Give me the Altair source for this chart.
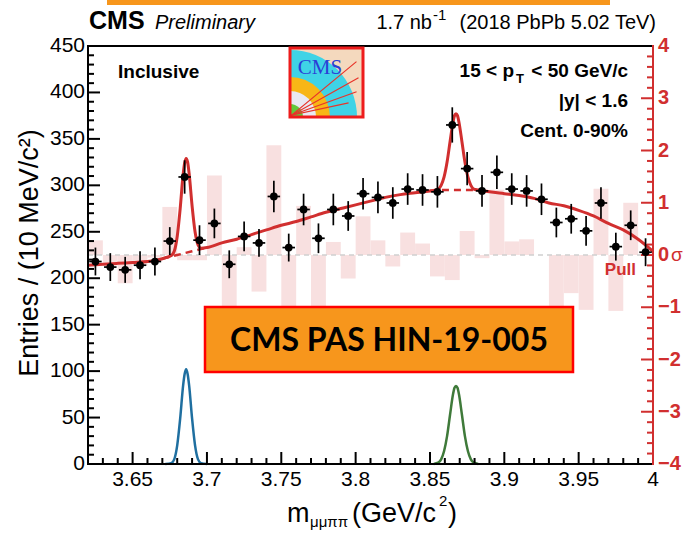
import math
import altair as alt
import pandas as pd

# ---------------- data ----------------
# bin centres of the m(mu mu pi pi) histogram, GeV/c^2 (10 MeV bins)
BIN_CENTRE = [3.625, 3.635, 3.645, 3.655, 3.665, 3.675, 3.685, 3.695, 3.705, 3.715,
              3.725, 3.735, 3.745, 3.755, 3.765, 3.775, 3.785, 3.795, 3.805, 3.815,
              3.825, 3.835, 3.845, 3.855, 3.865, 3.875, 3.885, 3.895, 3.905, 3.915,
              3.925, 3.935, 3.945, 3.955, 3.965, 3.975, 3.985, 3.995]
ENTRIES = [218, 212, 209, 214, 218, 240, 309, 241, 259, 215,
           245, 238, 288, 233, 274, 243, 274, 267, 291, 287,
           281, 296, 295, 293, 365, 318, 294, 314, 296, 294,
           285, 260, 264, 251, 281, 234, 257, 228]
STAT_ERR = [15, 15, 14, 15, 15, 15, 18, 16, 16, 15,
            16, 15, 17, 15, 17, 16, 17, 16, 17, 17,
            17, 17, 17, 17, 19, 18, 17, 18, 17, 17,
            17, 16, 16, 16, 17, 15, 16, 15]
PULL = [0.28, -0.20, -0.54, -0.20, -0.05, 0.92, -0.10, -0.10, 1.52, -1.70,
        0.15, -0.70, 2.10, -1.45, 0.94, -1.35, 0.25, -0.45, 0.74, 0.28,
        -0.22, 0.43, 0.22, -0.41, -0.48, 0.46, -0.06, 1.25, 0.26, 0.30,
        0.00, -1.05, -0.73, -1.05, 1.27, -1.07, 1.00, 0.00]

# fitted background
BKG_MASS = [3.62, 3.63, 3.64, 3.65, 3.66, 3.67, 3.68, 3.69, 3.70, 3.71,
            3.72, 3.73, 3.74, 3.75, 3.76, 3.77, 3.78, 3.79, 3.80, 3.81,
            3.82, 3.83, 3.84, 3.85, 3.86, 3.87, 3.88, 3.89, 3.90, 3.91,
            3.92, 3.93, 3.94, 3.95, 3.96, 3.97, 3.98, 3.99, 4.00]
BKG_VAL = [214, 215, 216, 217, 218, 221, 225, 229, 233, 238,
           242, 247, 252, 257, 261, 266, 271, 275, 279, 283,
           287, 290, 292, 294, 295, 295, 295, 293, 291, 289,
           286, 281, 278, 273, 267, 259, 252, 242, 229]

# total fit (signal + background) around the psi(2S) peak
PEAK1_MASS = [3.672, 3.676, 3.678, 3.680, 3.682, 3.684, 3.685, 3.686, 3.687, 3.688,
              3.690, 3.692, 3.694, 3.696, 3.700]
PEAK1_TOTAL = [222, 224.4, 229, 245, 275, 312, 324, 329, 325, 313,
               278, 250, 236, 232.4, 233]
# total fit around the X(3872) peak
PEAK2_MASS = [3.8525, 3.8555, 3.8575, 3.8595, 3.8615, 3.8635, 3.8655, 3.8665, 3.8675,
              3.8685, 3.8695, 3.8715, 3.8735, 3.8755, 3.8775, 3.8795, 3.8825]
PEAK2_TOTAL = [294.6, 296, 300, 309, 325, 347, 368, 375, 377,
               375, 368, 347, 325, 309, 300, 296, 295]

# signal-only shapes drawn at the bottom
PSI2S_MASS = PEAK1_MASS
PSI2S_VAL = [0, 1, 5, 20, 49, 85, 97, 102, 97, 85, 49, 20, 5, 1, 0]
X3872_MASS = PEAK2_MASS
X3872_VAL = [0.1, 1.4, 5, 14, 30, 53, 75, 82, 84, 82, 75, 53, 30, 14, 5, 1.4, 0.1]

# axis tick values and their labels
Y_TICKS = [0, 50, 100, 150, 200, 250, 300, 350, 400, 450]
Y_TICK_LABELS = ["0", "50", "100", "150", "200", "250", "300", "350", "400", "450"]
X_TICKS = [3.65, 3.7, 3.75, 3.8, 3.85, 3.9, 3.95, 4.0]
X_TICK_LABELS = ["3.65", "3.7", "3.75", "3.8", "3.85", "3.9", "3.95", "4"]
P_TICKS = [-4, -3, -2, -1, 0, 1, 2, 3, 4]
P_TICK_LABELS = ["\u22124", "\u22123", "\u22122", "\u22121", "0", "1", "2", "3", "4"]

# ---------------- tables ----------------
points = pd.DataFrame({"m": BIN_CENTRE, "n": ENTRIES, "e": STAT_ERR})
pulls = pd.DataFrame({"m": BIN_CENTRE, "pull": PULL})
bkg = pd.DataFrame({"m": BKG_MASS, "v": BKG_VAL})

fit_rows = [(m, v) for m, v in zip(BKG_MASS, BKG_VAL)
            if not (PEAK1_MASS[0] <= m <= PEAK1_MASS[-1])
            and not (PEAK2_MASS[0] <= m <= PEAK2_MASS[-1])]
fit_rows += list(zip(PEAK1_MASS, PEAK1_TOTAL)) + list(zip(PEAK2_MASS, PEAK2_TOTAL))
fit = pd.DataFrame(sorted(fit_rows), columns=["m", "v"])

under1 = bkg[(bkg.m >= 3.67) & (bkg.m <= 3.70)].assign(seg="a")
under2 = bkg[(bkg.m >= 3.85) & (bkg.m <= 3.89)].assign(seg="b")
bkg_under = pd.concat([under1, under2])

psi = pd.DataFrame({"m": PSI2S_MASS, "v": PSI2S_VAL})
x38 = pd.DataFrame({"m": X3872_MASS, "v": X3872_VAL})
ONE = pd.DataFrame({"k": [0]})

y_lab = pd.DataFrame({"v": Y_TICKS, "t": Y_TICK_LABELS})
x_lab = pd.DataFrame({"v": X_TICKS, "t": X_TICK_LABELS})
p_lab = pd.DataFrame({"v": P_TICKS, "t": P_TICK_LABELS})

# ---------------- styling ----------------
W, H = 565, 418
FONT = "Liberation Sans"
RED = "#d12f2f"
PINK = "#f8e0e0"
ORANGE = "#f7961c"

XS = alt.Scale(domain=[3.62, 4.0], nice=False, zero=False)
YS = alt.Scale(domain=[0, 450], nice=False, zero=False)
PS = alt.Scale(domain=[-4, 4], nice=False, zero=False)


def xq(field):
    return alt.X(field, type="quantitative", scale=XS, axis=None)


def yq(field):
    return alt.Y(field, type="quantitative", scale=YS, axis=None)


def yp(field):
    return alt.Y(field, type="quantitative", scale=PS, axis=None)


def txt(s, x, y, size, weight="normal", style="normal", color="black",
        align="left", baseline="alphabetic", font=FONT, angle=0):
    return alt.Chart(ONE).mark_text(
        text=s, fontSize=size, fontWeight=weight, fontStyle=style, color=color,
        align=align, baseline=baseline, font=font, angle=angle
    ).encode(x=alt.value(x), y=alt.value(y))


def seg(x, y, x2, y2, color="black", width=2.0):
    return alt.Chart(ONE).mark_rule(color=color, strokeWidth=width, strokeCap="square").encode(
        x=alt.value(x), y=alt.value(y), x2=alt.value(x2), y2=alt.value(y2))


# ---------------- pull panel (right axis) ----------------
pull_bars = alt.Chart(pulls).transform_calculate(
    lo="datum.m - 0.005", hi="datum.m + 0.005"
).mark_rect(color=PINK).encode(
    x=xq("lo:Q"), x2="hi:Q", y=yp("pull:Q"), y2=alt.Y2Datum(0))

zero_line = alt.Chart(ONE).mark_rule(color="#cfcfcf", strokeWidth=1.5, strokeDash=[5, 4]).encode(
    y=alt.YDatum(0, scale=PS, axis=None), x=alt.value(0), x2=alt.value(W))

p_major = pd.DataFrame({"v": P_TICKS})
p_minor = pd.DataFrame({"v": [i / 5 for i in range(-20, 21) if i % 5 != 0]})
p_ticks_major = alt.Chart(p_major).mark_rule(color=RED, strokeWidth=2).encode(
    y=yp("v:Q"), x=alt.value(W), x2=alt.value(W - 12))
p_ticks_minor = alt.Chart(p_minor).mark_rule(color=RED, strokeWidth=2).encode(
    y=yp("v:Q"), x=alt.value(W), x2=alt.value(W - 6))
p_labels = alt.Chart(p_lab).mark_text(
    align="left", baseline="middle", fontSize=20, fontWeight="bold", font=FONT, color=RED
).encode(y=yp("v:Q"), x=alt.value(W + 5), text="t:N")

sigma = alt.Chart(ONE).mark_text(text="\u03c3", fontSize=19, color=RED, font=FONT,
                                 align="left", baseline="middle").encode(
    y=alt.YDatum(0, scale=PS, axis=None), x=alt.value(W + 18))
pull_word = txt("Pull", 548, 224, 17, weight="bold", color=RED, align="right", baseline="middle")

pull_group = alt.layer(pull_bars, zero_line, p_ticks_major, p_ticks_minor, p_labels,
                       sigma, pull_word)

# ---------------- main panel (left axis) ----------------
bkg_dashed = alt.Chart(bkg_under).mark_line(
    color=RED, strokeWidth=2.5, strokeDash=[7, 5], interpolate="monotone").encode(
    x=xq("m:Q"), y=yq("v:Q"), detail="seg:N")
fit_line = alt.Chart(fit).mark_line(color=RED, strokeWidth=3, interpolate="monotone").encode(
    x=xq("m:Q"), y=yq("v:Q"))
psi_line = alt.Chart(psi).mark_line(color="#1f6fa0", strokeWidth=2.5, interpolate="monotone").encode(
    x=xq("m:Q"), y=yq("v:Q"))
x38_line = alt.Chart(x38).mark_line(color="#3f7a3a", strokeWidth=2.5, interpolate="monotone").encode(
    x=xq("m:Q"), y=yq("v:Q"))

err_base = alt.Chart(points).transform_calculate(
    lo="datum.n - datum.e", hi="datum.n + datum.e",
    ml="datum.m - 0.0042", mh="datum.m + 0.0042")
err_v = err_base.mark_rule(color="black", strokeWidth=1.7).encode(
    x=xq("m:Q"), y=yq("lo:Q"), y2="hi:Q")
err_h = err_base.mark_rule(color="black", strokeWidth=1.7).encode(
    x=xq("ml:Q"), x2="mh:Q", y=yq("n:Q"))
dots = alt.Chart(points).mark_circle(color="black", size=60, opacity=1).encode(
    x=xq("m:Q"), y=yq("n:Q"))

# axis ticks drawn inside the frame, labels outside
y_minor = pd.DataFrame({"v": [v for v in range(0, 451, 10) if v % 50]})
x_minor = pd.DataFrame({"v": [round(3.62 + i / 100, 2) for i in range(1, 38) if (i + 2) % 5]})
ty_major = alt.Chart(y_lab).mark_rule(color="black", strokeWidth=2).encode(
    y=yq("v:Q"), x=alt.value(0), x2=alt.value(12))
ty_minor = alt.Chart(y_minor).mark_rule(color="black", strokeWidth=2).encode(
    y=yq("v:Q"), x=alt.value(0), x2=alt.value(6))
tx_major = alt.Chart(x_lab[x_lab.v < 4.0]).mark_rule(color="black", strokeWidth=2).encode(
    x=xq("v:Q"), y=alt.value(H), y2=alt.value(H - 12))
tx_minor = alt.Chart(x_minor).mark_rule(color="black", strokeWidth=2).encode(
    x=xq("v:Q"), y=alt.value(H), y2=alt.value(H - 6))
ly_labels = alt.Chart(y_lab).mark_text(
    align="right", baseline="middle", fontSize=21, font=FONT, color="black"
).encode(y=yq("v:Q"), x=alt.value(-3), text="t:N")
lx_labels = alt.Chart(x_lab).mark_text(
    align="center", baseline="alphabetic", fontSize=21, font=FONT, color="black"
).encode(x=xq("v:Q"), y=alt.value(H + 22), text="t:N")

frame = [
    seg(0, 0, W, 0),               # top
    seg(0, 0, 0, H),               # left
    seg(0, H, W, H),               # bottom
    seg(W, 0, W, H, color=RED),    # right (pull axis)
]

# CMS logo
LX, LY, LW, LH = 202, 2, 73, 69
logo = [
    alt.Chart(ONE).mark_rect(color="#f4d9be").encode(
        x=alt.value(LX), x2=alt.value(LX + LW), y=alt.value(LY), y2=alt.value(LY + LH)),
    alt.Chart(ONE).mark_arc(theta=0, theta2=math.pi / 2, outerRadius=67, color="#3fd3e6").encode(
        x=alt.value(LX), y=alt.value(LY + LH)),
    alt.Chart(ONE).mark_arc(theta=0, theta2=math.pi / 2, outerRadius=40, color="#f8b616").encode(
        x=alt.value(LX), y=alt.value(LY + LH)),
    alt.Chart(ONE).mark_arc(theta=0, theta2=math.pi / 2, outerRadius=26, color="#e9e9f2").encode(
        x=alt.value(LX), y=alt.value(LY + LH)),
    alt.Chart(ONE).mark_arc(theta=0, theta2=math.pi / 2, outerRadius=13, color="#62c83a").encode(
        x=alt.value(LX), y=alt.value(LY + LH)),
    txt("CMS", LX + 30, LY + 26, 21, color="#2b3fd6", font="Liberation Serif",
        align="center", baseline="alphabetic"),
    seg(LX + 2, LY + LH - 2, LX + 66, LY + 14, color="#e8342a", width=1.2),
    seg(LX + 2, LY + LH - 2, LX + 68, LY + 30, color="#e8342a", width=1.2),
    seg(LX + 2, LY + LH - 2, LX + 66, LY + 44, color="#e8342a", width=1.2),
    seg(LX + 2, LY + LH - 2, LX + 58, LY + 55, color="#e8342a", width=1.2),
    alt.Chart(ONE).mark_rect(fill=None, stroke="#ee1c1c", strokeWidth=3).encode(
        x=alt.value(LX), x2=alt.value(LX + LW), y=alt.value(LY), y2=alt.value(LY + LH)),
]

# publication tag
tag = [
    alt.Chart(ONE).mark_rect(color=ORANGE, stroke="#ff0000", strokeWidth=2.5).encode(
        x=alt.value(117), x2=alt.value(485), y=alt.value(261), y2=alt.value(326)),
    txt("CMS PAS HIN-19-005", 301, 295, 32, weight="bold", font="Lato",
        align="center", baseline="middle"),
    alt.Chart(ONE).mark_rect(color=ORANGE).encode(
        x=alt.value(19), x2=alt.value(522), y=alt.value(-46), y2=alt.value(-41)),
]

labels = [
    txt("CMS", 1, -17, 25, weight="bold"),
    txt("Preliminary", 67, -17, 20, style="italic"),
    txt("1.7 nb", 344, -17, 20, align="right"),
    txt("-1", 345, -26, 15),
    txt("(2018 PbPb 5.02 TeV)", 568, -17, 20, align="right"),
    txt("Inclusive", 30, 32, 19, weight="bold"),
    txt("< 50 GeV/c", 540, 31, 19, weight="bold", align="right"),
    txt("T", 432, 37, 13, weight="bold", align="center"),
    txt("15 < p", 426, 31, 19, weight="bold", align="right"),
    txt("|y| < 1.6", 540, 61, 19, weight="bold", align="right"),
    txt("Cent. 0-90%", 540, 91, 19, weight="bold", align="right"),
    # axis titles
    txt("Entries / (10 MeV/c\u00b2)", -58, 207, 27, angle=270, align="center", baseline="middle"),
    txt("m", 199, 476, 27),
    txt("\u03bc\u03bc\u03c0\u03c0", 222, 481, 15),
    txt("(GeV/c", 264, 476, 27),
    txt("2", 351, 460, 15),
    txt(")", 360, 476, 27),
]

main_group = alt.layer(
    bkg_dashed, fit_line, psi_line, x38_line, err_v, err_h, dots,
    ty_major, ty_minor, tx_major, tx_minor, ly_labels, lx_labels,
    *frame, *logo, *tag, *labels)

chart = alt.layer(pull_group, main_group).resolve_scale(y="independent").properties(
    width=W, height=H,
    autosize=alt.AutoSizeParams(type="none"),
    padding={"left": 88, "top": 46, "right": 42, "bottom": 76},
).configure_view(stroke=None).configure(background="white")

chart.save("out.html", embed_options={"renderer": "svg", "actions": False})
